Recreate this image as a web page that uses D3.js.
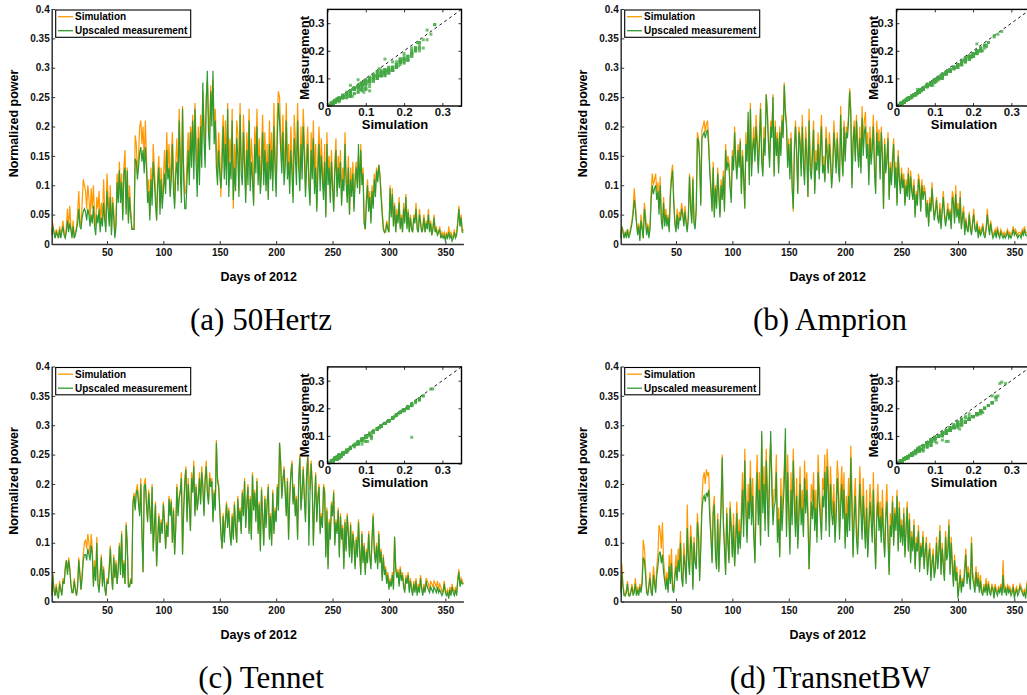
<!DOCTYPE html>
<html>
<head>
<meta charset="utf-8">
<script src="https://cdn.jsdelivr.net/npm/d3@7"></script>
<style>
  body { margin: 0; background: #fff; }
  svg text { font-family: "Liberation Sans", Arial, sans-serif; font-weight: bold; }
  svg text.caption { font-family: "Liberation Serif", "DejaVu Serif", serif; font-weight: normal; }
</style>
</head>
<body>
<svg id="chart" width="1027" height="695"></svg>
<script>
// daily normalized power, in percent (0.05 -> 5), days 1..366 of 2012
var days = d3.range(1, 367);

var yTicks = [0, 0.05, 0.1, 0.15, 0.2, 0.25, 0.3, 0.35, 0.4];
var yTickLabels = ["0", "0.05", "0.1", "0.15", "0.2", "0.25", "0.3", "0.35", "0.4"];
var xTicks = [50, 100, 150, 200, 250, 300, 350];
var insetTicks = [0, 0.1, 0.2, 0.3];
var insetTickLabels = ["0", "0.1", "0.2", "0.3"];
var legendLabels = ["Simulation", "Upscaled measurement"];
var captions = ["(a) 50Hertz", "(b) Amprion", "(c) Tennet", "(d) TransnetBW"];

// (a) 50Hertz
var simA = [
  2,3.5,2,1,2.5,2,1,3,1.5,2.5, 4,2,1,3,6,2.5,6.5,3,1.5,4, 1,2,3,5.5,9,4,3,7,11,10,
  9,6,10,8,4,9.5,6,10,5,3, 8,6,9,3,7,4,11,6,3,12, 8,5,10,2,8,6,1.5,4,12,9,
  14,8,12,5,13,16,6,13,4,10, 6,3,2.5,2.5,18.5,17,12,15,20,21, 17,20,14,21,15,9,11,5,13,8,
  17,13,9,4,12,15,6,13,7,11, 16,10,19,13,17,9,15,19,12,7, 14,18,10,23,16,10,23.5,13,9,8.5,
  15,19,12,20,17,22,14,24,18,11, 20,13,22,17,26,21,16,25,28,22, 19,27,23,28,20,23,17,12,19,15,
  8,17,22,14,21,13,24,10,18,14, 23,6,17,11,21,19,9,24,15,12, 22,16,8,19,13,23,10,18,14,7,
  20,15,23,12,18,9,16,22,13,19, 10,17,8,21,14,19,11,24,16,9, 22,26,25,19,15,22,12,17,24,13,
  17,10,20,15,8,22,18,13,24,16, 11,20,14,23,18,9,16,20,12,7, 19,14,21,10,17,6,15,20,11,18,
  13,9,17,5,19,12,15,8,16,11, 6,14,18,9,15,11,16,7,13,10, 19,12,8,15,5,13,9,14,6,12,
  14,10,15,9,17,11,13,4,2.5,8, 11,6,9,4,10,7,12,9,13,11, 13.5,12,9,6,3,2,2.5,4,3,2,
  10,5,9.5,3,7,2,6,4,8,3, 5,2,7,4,8.5,3,6,2,5,3, 2,5,4,7,3,2,6,4,2,3,
  5,2,4,3,6,2,4,1.5,3,5, 2,3,1.5,2,3,1,2,1.5,2,1, 2,1,3,1.5,2,1,1.5,2.5,1,2,
  4,6.5,3,5,2,2.5
];
var measA = [
  1.5,3,2,1,2,1.5,1,2.5,1,2, 3,1.5,1,2,4,2,3.5,2.5,1,3, 1,1.5,2.5,3.5,6,3,2.5,4.5,5.5,6,
  5.5,4,6,5,3,5,3.5,6.5,3,1.5, 5,3.5,6,2,4.5,3,7,4,2,9, 6,3,8,1.5,7,4.5,1,3,10.5,7,
  12.5,7,10.5,4,12,13,5,12.5,3.5,8, 5,2.5,2.5,2.5,14.5,14,11,13,15.5,16.5, 14,16,12,16.5,13,7,9,4,11,6.5,
  14,11,7,4,10,13,5,11,6,9, 12,8.5,16,11,13,8,11,17,9,6, 12,14,9,21,12,7,23,11,6,6,
  11,16,10,19,13,21,11,23,14,8, 18,10,20,13,27.5,18,13,24,29.5,19, 16,26,20,29.5,17,21,13,10,16,12,
  9.5,13,20,11,17,10,23,8,14,11, 21,7.5,13,9,18,15,8,22,12,10, 19,13,7,16,10,21,9,14,11,6.5,
  17,12,20,10,15,8.5,12,19,10,16, 9,14,7.5,17,11,16,9,20,13,8, 18,24,21,16,12,19,10,13,21,11,
  14,8.5,16,12,7,18,15,10,21,13, 9,17,11,20,15,8,13,17,10,6.5, 16,11,18,8.5,13,5.5,12,17,9,15,
  11,7.5,14,4.5,17,10,13,7,14,9.5, 5.5,12,16,8,13,9.5,14,6.5,11,9, 17,10.5,7,13,5,11,8,12,5.5,10.5,
  13,9.5,17,8.5,16,10,12,3.5,2.5,7, 10,5.5,8,3.5,9,6,11,8,12.5,10.5, 13.5,11.5,8,5,2.5,2,2,3.5,2.5,2,
  9.5,4.5,8.5,3,6.5,2,5,3.5,7,2.5, 4.5,2,6,3.5,8,2.5,5.5,2,4.5,2.5, 2,4.5,3.5,6,2.5,2,5,3.5,2,2.5,
  4.5,2,3.5,2.5,5,2,3.5,1.5,2.5,4.5, 2,2.5,1.5,2,2.5,1,1.5,1,1.5,0.5, 1.5,1,2,1,1.5,0.5,1,2,1,1.5,
  3.5,6,3,4.5,2,2
];

// (b) Amprion
var simB = [
  1.5,3,2.5,1,2,1.5,2.5,1.5,2,3, 4,6,9.5,7,4,2,3.5,1,5,3, 1,7,5,2,3.5,1.5,3,9,12,10,
  11,12,9,10.5,6,11.5,5,3,8,4, 6,3.5,5,2.5,9,12,13.5,8,4,2.5, 6,3,5.5,4.5,7,5.5,3.5,6.5,4,2.5,
  5,12,7,4,11.5,4,3,6.5,19,18, 15,7,19.5,20,21,19,20.5,21,17.5,13, 10,6,14,5,10,7,13,9,5,11,
  8,12.5,6,17,13,15,14,10,8,16, 13,20,15,12,17,14,18,9,16,12, 6.5,19,15,21,11,24,13,17,20,15,
  22,18,13,19,24,16,12,20,17,25.5, 23,18,14,21,19,25.5,12,21,16,19, 13,20,16,22,19,27.5,23,21,14,18,
  12,19,10,5.5,17,21,16,9,20,18, 13,22,15,11,20,17,8,23,14,12, 17,21,9,16,14,19,12,18,22,13,
  15,11,20,17,13,19,16,10,14,21, 17,13,19,14,11,23.5,16,12,21,15, 20,19,22,26.5,23,10,18,21,15,22,
  18,14,20,13,23.5,17,21,22.5,16,19, 11,20,15,18,22,14,9,21,17,19.5, 12,20,16,6,18,13,15,19,8,14,
  11,15,18,10,14,7,16,12,9,13, 10,12,7,11,9,13,8,12.5,10,8, 11,5,9,7,12,10.5,6,11,8,10,
  9,5,7.5,3.5,8,6,10.5,7,4.5,6, 8,5,4,7,3,6,9,5.5,3.5,5, 7,4.5,6,3,9,8,4,10,5,7,
  4,9,3,5,6.5,2,4.5,3,2.5,5.5, 3,2,4,6,3,2.5,4,1.5,3,2, 2.5,3.5,2,1.5,3,6,3.5,2,4,2.5,
  1.5,2,2.5,1.5,3,2,1.5,2.5,2,1.5, 2,1.5,2,2.5,1.5,2,1.5,2,3,2, 2.5,2,1.5,2,2,1.5,2.5,2,3,2,
  2,1.5,2,3,2.5,2
];
var measB = [
  1,3,2,1,2,1,2.5,1,1.5,2.5, 3.5,5,7.5,6,3.5,1.5,3,0.5,4,2.5, 1,6,4,1.5,3,1,2.5,7.5,10,8.5,
  9.5,10,7.5,9,5,10,4,2.5,7,3, 5,3,4.5,2,8,11,12.5,7,3.5,2, 5,2.5,4.5,4,6,5,3,5.5,3.5,2,
  4.5,11.5,6,3.5,11,3.5,2.5,6,18,17.5, 14,6.5,18,18.5,19,18,19,19.5,16.5,12, 9,5.5,13,4.5,9.5,6,12,8.5,4.5,10,
  7.5,11.5,5.5,16,12.5,14,13,9.5,7,15, 12.5,19,14,11,16,13,17.5,8.5,15,11, 6,17,14,22.5,10,23,11.5,16,18,14,
  20,16.5,12,17,23,14,11.5,18,15,25.5, 22,17,13,20,18,25,11.5,20,15,18, 12,19,15,21,18,27,22,20,13,17,
  11,18,9.5,6,16,20,15,8.5,19,17, 11.5,20,13.5,10,18,15,8,21,12.5,11, 15,19.5,8.5,14,12.5,17,11,16,20,12,
  13.5,10.5,18,15,12,17,14,9.5,12.5,19, 16,12,18,13,10.5,22,15,11.5,20,14, 19,18,21,26,22,9.5,17,20,14,21,
  16,13,18,12,21.5,15,19,20,14.5,17, 10,18,13.5,16,20,12.5,8.5,19,15,17.5, 11,19,15,6,17,12,14,18,7.5,13,
  10,14,17,9.5,13,6.5,15,11,8.5,12, 9.5,11,6.5,10,8,12,7.5,11.5,9,7.5, 10,4.5,8.5,6.5,11,9.5,5.5,10,7.5,9,
  8.5,4.5,7,3,7,5.5,9.5,6.5,4,5.5, 7.5,4.5,3.5,6,2.5,5.5,8,5,3,4.5, 6,4,5.5,2.5,8,7,3.5,8.5,4.5,6,
  3.5,8,2.5,4.5,5.5,1.5,4,2.5,2,5, 2.5,1.5,3.5,5,2.5,2,3.5,1,2.5,1.5, 2,3,1.5,1,2.5,5,3,1.5,3.5,2,
  1,1.5,2,1,2.5,1.5,1,2,1.5,1, 1.5,1,1.5,2,1,1.5,1,1.5,2.5,1.5, 2,1.5,1,1.5,1.5,1,2,1.5,2.5,1.5,
  1.5,1,1.5,2.5,2,1.5
];

// (c) Tennet
var simC = [
  1.5,5,2,1,3,1.5,1,3.5,2,1.5, 4,3,6,7,5,7.5,6,3,1.5,2, 4,2,1,3,7.5,5,2,5,8,10,
  10.5,9,11.5,10,8,11.5,9,3,7,4, 11,3,2,5,8,3,6,2.5,1,4, 3,6,9.5,5,2,8,4,7,3,6,
  10,5,12,4,7,3,13.5,10,3,2.5, 4,3,17,18.5,16,19,20,17,15,21, 12,5,20,21,17,14,19,16,12,20,
  9,13,17,6,11,15,10,14,12,17, 14,9,13.5,11,18,15,17.5,10,16,8, 13,20,15,18,19,22,8,16,21,23,
  14,21,17,12,22,19,24,15,20,16, 18,22,17,23,20,15,21,24,19,17, 22,20,21,14,19,16,27.5,21,20,16,
  12,9,15,11.5,14,17,13,16,12,10, 15,11,17,13,10,18,14,16,12,19, 15,21,13,17,20,12,18,11,22,16,
  19,14,21,12,17,9,19.5,15,10,18, 13,17,20,11,15,10,19,12,16,14, 20,16,27,24,18,21,23,19,15,21,
  11,18,22,24,17,20,15,18,11,21, 25,16,19,23,18,14,22,25,22,19, 24,20,10,17,22,14,18,20,12,15,
  13,20,19,8,16,6,14,11,17,15, 19,10,14,12,16,8,15,11,13,6, 14,9,15,12,8,13.5,7,12,10,6,
  11,8,14,9,5,12,7,10,5,9, 7,12,8,6,11,15,9,7,10,6, 12,7,9,4,8,5,6,3.5,5,2.5,
  4,3,5,2.5,11,6,4.5,5.5,3,6, 4,5,3,2,4.5,3.5,5,2,4,2.5, 1.5,3.5,2,4,1.5,3,2,4.5,2.5,1.5,
  3,2,4,3.5,3,2,3.5,3,2.5,3.5, 3,2.5,3.5,2,3,2.5,1.5,2,3.5,2, 1.5,2,1,2.5,1.5,3,2,1.5,2.5,1.5,
  4,5.5,3,4,3.5,3
];
var measC = [
  1,4.5,2,1,2.5,1,0.5,3,2,1, 3.5,3,5.5,7,4.5,7,5.5,3,1.5,1.5, 3.5,2,1,2.5,7,4.5,2,4,7,8,
  8,7,9,8,7,9.5,8,2.5,6,3.5, 10,3,1.5,4.5,7.5,2.5,5.5,2.5,1,3.5, 3,5.5,9,4.5,2,7.5,4,6.5,3,5.5,
  9.5,4.5,11.5,4,6.5,3,13,9.5,2.5,2.5, 3.5,3,16.5,18,15.5,18.5,19,16.5,14.5,20, 11.5,5,19.5,20,16.5,13.5,18.5,15.5,11.5,19.5,
  8.5,12.5,16.5,6,10.5,14.5,10,13.5,11.5,16.5, 13.5,9,13,11,17.5,14.5,17,10,15.5,8, 12.5,19.5,14.5,17.5,18.5,21,8,15.5,20,22.5,
  13.5,20,16.5,12,21,18.5,23,14.5,19.5,15.5, 17.5,21,16.5,22,19.5,14.5,20.5,23,18.5,16.5, 21,19.5,20.5,13.5,18.5,15.5,27,20.5,19.5,15.5,
  11.5,9,14.5,10,13.5,16.5,12.5,15.5,11.5,9.5, 14.5,10.5,16.5,12.5,10,17.5,13.5,15.5,11.5,18.5, 14.5,20.5,12.5,16.5,19.5,11.5,17.5,10.5,21.5,15.5,
  18.5,13.5,20.5,11.5,16.5,8.5,19,14.5,9.5,17.5, 12.5,16.5,19.5,10.5,14.5,9.5,18.5,11.5,15.5,13.5, 19.5,15.5,27,23.5,17.5,20.5,22.5,18.5,14.5,20.5,
  10.5,17.5,21.5,23.5,16.5,19.5,14.5,17.5,10.5,20.5, 24.5,15.5,18.5,22.5,17.5,13.5,21.5,24.5,9.5,18.5, 23.5,19.5,9.5,16.5,21.5,13.5,17.5,19.5,11.5,14.5,
  12.5,19.5,18.5,7.5,15.5,5.5,13.5,10.5,16.5,14.5, 18.5,9.5,13.5,11.5,15.5,7.5,14.5,10.5,12.5,5.5, 13.5,8.5,14.5,11.5,7.5,13,6.5,11.5,9.5,5.5,
  10.5,7.5,13.5,8.5,4.5,11.5,6.5,9.5,4.5,8.5, 6.5,11.5,7.5,5.5,10.5,14.5,8.5,6.5,9.5,5.5, 11.5,6.5,8.5,3.5,7.5,4.5,5.5,3,4.5,2,
  3.5,2.5,4.5,2,11,5.5,4,5,2.5,5.5, 3.5,4.5,2.5,1.5,4,3,4.5,1.5,3.5,2, 1,3,1.5,3.5,1,2.5,1.5,4,2,1,
  2.5,1.5,3.5,2.5,2,1.5,2.5,2,1.5,2.5, 2,1.5,2.5,1.5,2,1.5,1,1.5,3,1.5, 1,1.5,0.5,2,1,2.5,1.5,1,2,1,
  3.5,5,2.5,3.5,3,3
];

// (d) TransnetBW
var simD = [
  2,6.5,3,1.5,1,2,3.5,1.5,1,2, 3,1.5,2,4,1,2.5,1.5,3,2,4, 10.5,9,6,2,1.5,3,5,2,1,6,
  4,2,6,8,13,12,9,13.5,7,5, 3,5,2,8,4,9,3,2,5,8, 4,9,6,12,5,3,10,7,4,16.5,
  8,5,13,10,2.5,11,7,6,15,12, 4,10,17,21,22,20,22.5,21.5,22,16, 12,7,16,18,9,6,15,5.5,12,17,
  25,14,10,5,16,11,7,17,13,8, 15,6,12,17,9,14,10,16,22,13, 26,18,11,20,16,24,15,21,13,7,
  19,25,15,22,10,28.5,18,23,14,26, 20,12,24,27,22,15,19,19,25,11, 16,8,21,14,19,23,27.5,12,25,18,
  9,22,15,26,19,13,21,10,17,23, 15,19,12,24,18,22,16,5.5,13,20, 17,22,14,19,11,25,20,16,12,21,
  19,25,14,26,22,13,23,18,15,20, 11,17,24,21,12,19,23,16,22,10, 18,13,21,14,26.5,19,8,17,21,13,
  9,16,23,18,12,21,15,10,19,8, 14,20,17,11,22,13,6,16,20,14, 17,11,19,13,8,16,20,12,5,15,
  12,18,10,16,13,19,9,17,11,14, 10,16,8,13,17,9,15,7,12,9, 14,6,11,9,13,5.5,10,8,12,6,
  9,11,5,8,10,4,7,9,4.5,6, 11,6,9,13,5,10,7,4,12,8, 9,14,5,11,7,3,8,4,6,1,
  3,5.5,2,4,3,6.5,9,4,6,5, 2.5,11,5,4,2,6,3,5,2,4.5, 2,1.5,3,2,4,1.5,3.5,2,1.5,3,
  2.5,1,3,2,1.5,2.5,2,3,1.5,7, 2,2.5,1.5,3,2,2.5,1.5,2,3,1, 2,2.5,1.5,2,3,2.5,2,1.5,2,1,
  3,4,2.5,1.5,3,2
];
var measD = [
  1.5,5,2.5,1,1,1.5,3,1,1,1.5, 2.5,1,1.5,3,1,2,1,2.5,1.5,3, 7.5,7,4.5,1.5,1,2.5,4,1.5,1,4.5,
  3,1.5,4.5,6,8,8.5,6.5,8,5,3.5, 2,4,1.5,6,3,6.5,2,1.5,4,6, 3.5,7,5,10,4,2.5,8,6,3,12.5,
  7,4.5,11,9,2,10,6.5,5.5,13.5,11, 3.5,9,15.5,17.5,18,17,18.5,18,19,14, 11,6.5,15,16.5,8,5.5,14,5,11,16,
  24.5,13,9,4.5,15,10,6.5,16,12,7.5, 13,6,10,15,8,12,9,13.5,19,11, 24,15,10,17,14,21,13,18,11,6.5,
  16,22,13,19,9.5,29,15,20,12,24, 17,11,21,29,19,13,16,17,22,10, 14,7.5,18,12,16,20,29.5,11,22,15,
  8,19,13,24,16,11,18,9,14,20, 13,16,11,21,15,19,14,5.5,11,17, 14,19,12,16,10,22,17,14,10.5,18,
  16,22,12,23,19,11,20,15,13,17, 10,14,21,18,10.5,16,20,14,19,9, 15,11,18,12,24.5,16,7.5,14,18,11,
  8,13,20,15,10.5,18,13,9,16,7.5, 12,17,14,10,19,11,5.5,14,17,12, 14.5,10,16,11,7.5,14,17,10.5,4.5,13,
  11,17,9.5,15,12,18,8.5,16,10,13, 9.5,15,7.5,12,16,8.5,14,6.5,11,8.5, 13,5.5,10,8.5,12,5,9.5,7.5,11,5.5,
  8.5,10,4.5,7.5,9,3.5,6.5,8,4,5.5, 10,5.5,8,12,4.5,9,6,3.5,11,7, 8,13,4.5,10,6,2.5,7,3.5,5,0.5,
  2.5,4.5,1.5,3.5,2.5,5,8,3,5,4, 2,10,4,3,1.5,5,2.5,4,1.5,3.5, 1.5,1,2.5,1.5,3,1,3,1.5,1,2.5,
  2,0.5,2.5,1.5,1,2,1.5,2.5,1,4.5, 1.5,2,1,2.5,1.5,2,1,1.5,2.5,0.5, 1.5,2,1,1.5,2.5,2,1.5,1,1.5,0.5,
  2.5,3.5,2,1,2.5,1.5
];

var simSeries = [simA, simB, simC, simD];
var measSeries = [measA, measB, measC, measD];

var colSim = "#ff9900",
    colMeas = "#2f9a2f";

var panelDx = 569,
    panelDy = 357.5;

var svg = d3.select("#chart");

// main axes (same for every panel)
var x = d3.scaleLinear().domain([1, 366]).range([51.7, 463.4]);
var y = d3.scaleLinear().domain([0, 0.4]).range([244, 9]);
// inset scatter
var xi = d3.scaleLinear().domain([0, 0.35]).range([327.5, 461.5]);
var yi = d3.scaleLinear().domain([0, 0.35]).range([106, 9.4]);

function styleAxis(g, size) {
    g.attr("font-size", size).attr("font-family", null);
    g.selectAll("text").attr("fill", "#111");
    g.selectAll(".tick line").attr("stroke", "#333");
    g.select(".domain").attr("stroke", "#333").attr("stroke-width", 1.5);
}

function drawPanel(i) {
    var g = svg.append("g")
        .attr("transform", "translate(" + (i % 2) * panelDx + "," + Math.floor(i / 2) * panelDy + ")");

    var sim = simSeries[i].map(function(v) { return v / 100; });
    var meas = measSeries[i].map(function(v) { return v / 100; });

    var line = d3.line()
        .x(function(d, j) { return x(days[j]); })
        .y(function(d) { return y(d); });

    g.append("path").datum(sim)
        .attr("d", line).attr("fill", "none")
        .attr("stroke", colSim).attr("stroke-width", 1.2);
    g.append("path").datum(meas)
        .attr("d", line).attr("fill", "none")
        .attr("stroke", colMeas).attr("stroke-width", 1.2);

    // axes, ticks pointing inside
    g.append("g")
        .attr("transform", "translate(" + x.range()[0] + ",0)")
        .call(d3.axisLeft(y).tickValues(yTicks)
            .tickFormat(function(d, k) { return yTickLabels[k]; })
            .tickSizeInner(-3.5).tickSizeOuter(0).tickPadding(2))
        .call(styleAxis, 10);

    g.append("g")
        .attr("transform", "translate(0," + y(0) + ")")
        .call(d3.axisBottom(x).tickValues(xTicks)
            .tickSizeInner(-3).tickSizeOuter(0).tickPadding(5))
        .call(styleAxis, 10);

    g.append("text")
        .attr("transform", "translate(17.5,123.5) rotate(-90)")
        .attr("text-anchor", "middle")
        .style("font-size", "12.5px")
        .text("Normalized power");

    g.append("text")
        .attr("x", 258.7).attr("y", 281)
        .attr("text-anchor", "middle")
        .style("font-size", "12.5px")
        .text("Days of 2012");

    // legend
    var lg = g.append("g");
    lg.append("rect")
        .attr("x", 55.7).attr("y", 10).attr("width", 135).attr("height", 27.3)
        .attr("fill", "#fff").attr("stroke", "#000").attr("stroke-width", 1.1);
    [colSim, colMeas].forEach(function(c, k) {
        lg.append("line")
            .attr("x1", 58).attr("x2", 73)
            .attr("y1", 16.7 + k * 14).attr("y2", 16.7 + k * 14)
            .attr("stroke", c).attr("stroke-width", 1.3);
        lg.append("text")
            .attr("x", 75).attr("y", 20.3 + k * 14)
            .style("font-size", "10px")
            .text(legendLabels[k]);
    });

    // inset: measurement vs simulation
    var ins = g.append("g");
    ins.append("rect")
        .attr("x", xi(0)).attr("y", yi(0.35))
        .attr("width", xi(0.35) - xi(0)).attr("height", yi(0) - yi(0.35))
        .attr("fill", "#fff");
    ins.append("line")
        .attr("x1", xi(0)).attr("y1", yi(0))
        .attr("x2", xi(0.35)).attr("y2", yi(0.35))
        .attr("stroke", "#000").attr("stroke-width", 0.9)
        .attr("stroke-dasharray", "3,3");
    ins.selectAll("rect.pt")
        .data(sim)
        .enter()
        .append("rect")
        .attr("class", "pt")
        .attr("x", function(d) { return xi(d) - 1.5; })
        .attr("y", function(d, j) { return yi(meas[j]) - 1.5; })
        .attr("width", 3).attr("height", 3)
        .attr("fill", "#44a844").attr("opacity", 0.75);

    ins.append("g")
        .attr("transform", "translate(0," + yi(0) + ")")
        .call(d3.axisBottom(xi).tickValues(insetTicks)
            .tickFormat(function(d, k) { return insetTickLabels[k]; })
            .tickSizeInner(-3).tickSizeOuter(0).tickPadding(2))
        .call(styleAxis, 11.5);
    ins.append("g")
        .attr("transform", "translate(" + xi(0) + ",0)")
        .call(d3.axisLeft(yi).tickValues(insetTicks)
            .tickFormat(function(d, k) { return insetTickLabels[k]; })
            .tickSizeInner(-3).tickSizeOuter(0).tickPadding(3))
        .call(styleAxis, 11.5);
    ins.append("g")
        .attr("transform", "translate(0," + yi(0.35) + ")")
        .call(d3.axisTop(xi).tickValues(insetTicks).tickFormat("")
            .tickSizeInner(-3).tickSizeOuter(0))
        .call(styleAxis, 11.5);
    ins.append("g")
        .attr("transform", "translate(" + xi(0.35) + ",0)")
        .call(d3.axisRight(yi).tickValues(insetTicks).tickFormat("")
            .tickSizeInner(-3).tickSizeOuter(0))
        .call(styleAxis, 11.5);
    ins.selectAll(".domain").remove();
    ins.append("rect")
        .attr("x", xi(0)).attr("y", yi(0.35))
        .attr("width", xi(0.35) - xi(0)).attr("height", yi(0) - yi(0.35))
        .attr("fill", "none").attr("stroke", "#000").attr("stroke-width", 1.4);

    ins.append("text")
        .attr("x", 395).attr("y", 129)
        .attr("text-anchor", "middle")
        .style("font-size", "13px")
        .text("Simulation");
    ins.append("text")
        .attr("transform", "translate(308.5,57.8) rotate(-90)")
        .attr("text-anchor", "middle")
        .style("font-size", "13px")
        .text("Measurement");

    // caption
    g.append("text")
        .attr("class", "caption")
        .attr("x", 261).attr("y", 330)
        .attr("text-anchor", "middle")
        .style("font-size", "31px")
        .text(captions[i]);
}

for (var i = 0; i < 4; i++) drawPanel(i);
</script>
</body>
</html>
